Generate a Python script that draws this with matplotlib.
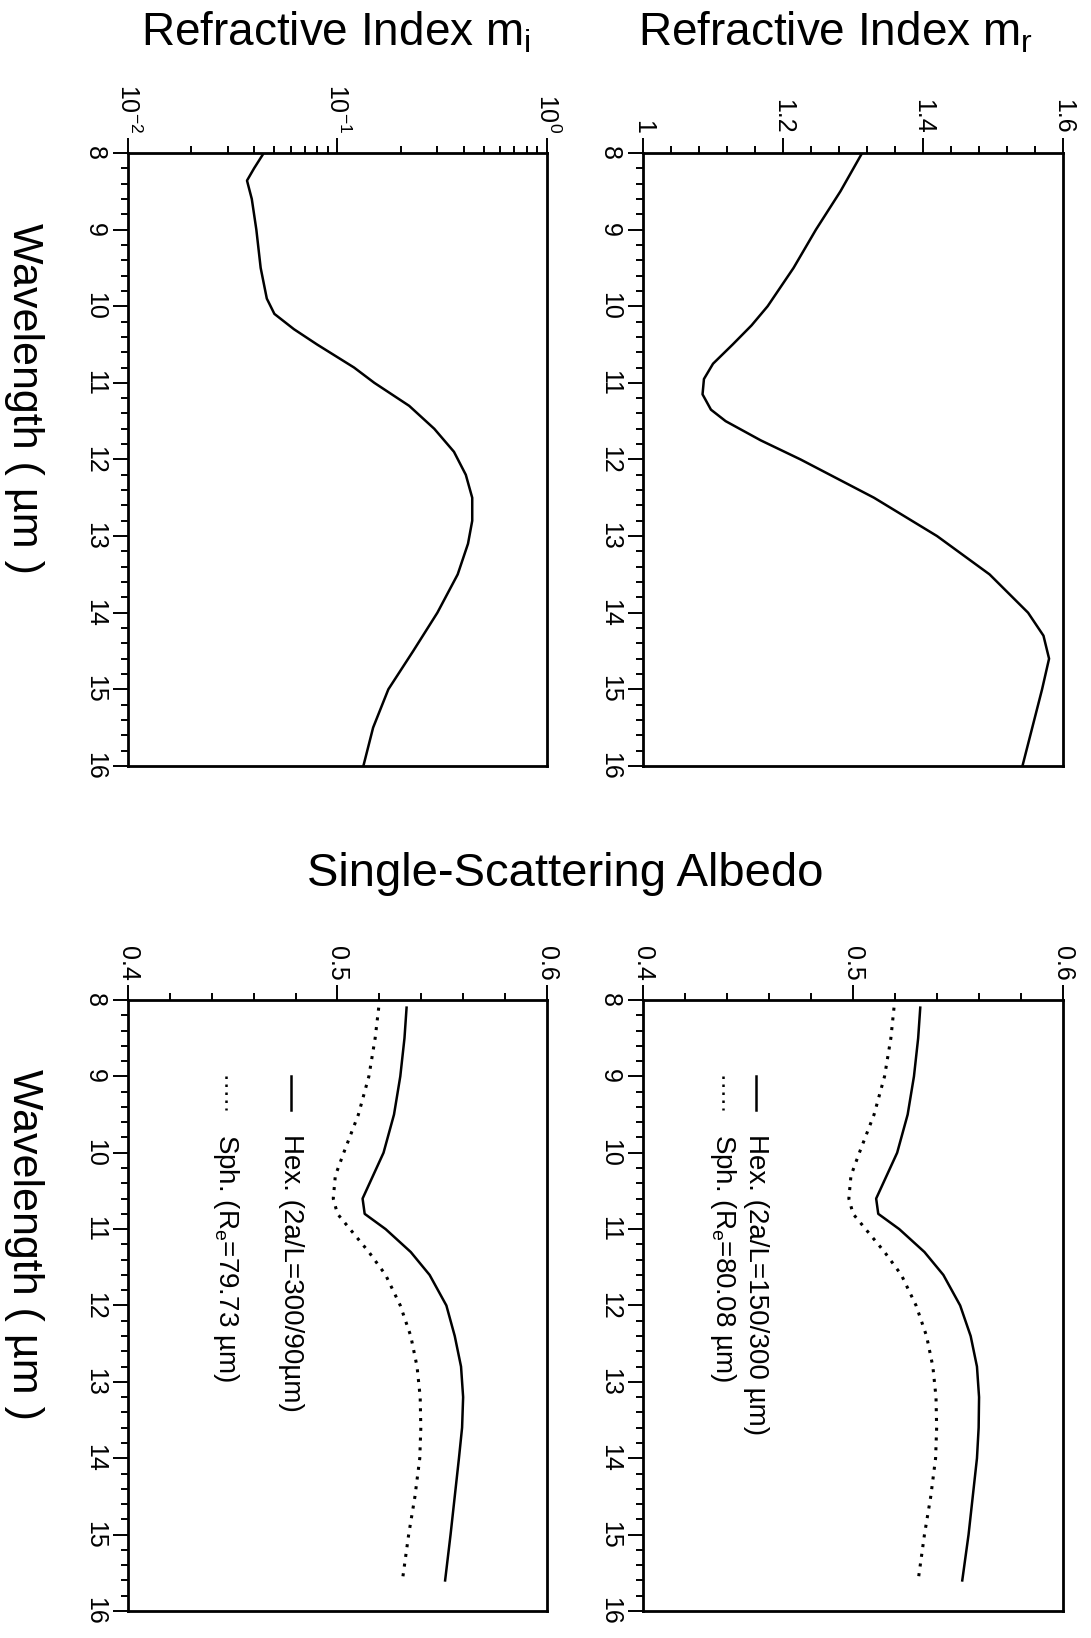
import matplotlib.pyplot as plt
from matplotlib.ticker import MultipleLocator, FixedLocator, LogLocator, NullFormatter

plt.rcParams['font.family'] = ['Liberation Sans', 'DejaVu Sans']
plt.rcParams['mathtext.fontset'] = 'custom'
plt.rcParams['mathtext.rm'] = 'Liberation Sans'
plt.rcParams['mathtext.it'] = 'Liberation Sans:italic'

# refractive index, real part
wl_mr = [8, 8.5, 9, 9.5, 10, 10.25, 10.5, 10.75, 10.95, 11.15, 11.35, 11.5, 11.75, 12, 12.5, 13,
         13.5, 14, 14.3, 14.6, 15, 15.5, 16]
mr = [1.313, 1.282, 1.247, 1.215, 1.178, 1.155, 1.128, 1.100, 1.087, 1.085, 1.097, 1.118, 1.168,
      1.225, 1.33, 1.42, 1.495, 1.55, 1.572, 1.58, 1.57, 1.556, 1.542]

# refractive index, imaginary part
wl_mi = [8, 8.2, 8.36, 8.6, 9, 9.5, 9.9, 10.1, 10.3, 10.5, 10.8, 11, 11.3, 11.6, 11.9, 12.2,
         12.5, 12.8, 13.1, 13.5, 14, 14.5, 15, 15.5, 16]
mi = [0.0445, 0.040, 0.037, 0.039, 0.041, 0.043, 0.046, 0.050, 0.062, 0.080, 0.12, 0.15, 0.22,
      0.29, 0.36, 0.41, 0.44, 0.44, 0.42, 0.375, 0.30, 0.23, 0.175, 0.148, 0.133]

# single-scattering albedo
wl_ssa = [8.1, 8.5, 9, 9.5, 10, 10.3, 10.6, 10.8, 11, 11.3, 11.6, 12, 12.4, 12.8, 13.2, 13.6,
          14, 14.5, 15, 15.6]
hex_150 = [0.532, 0.531, 0.529, 0.526, 0.521, 0.516, 0.511, 0.512, 0.522, 0.534, 0.543, 0.551,
           0.556, 0.559, 0.560, 0.5598, 0.559, 0.557, 0.555, 0.552]
sph_80 = [0.5195, 0.518, 0.515, 0.510, 0.503, 0.499, 0.498, 0.500, 0.506, 0.515, 0.523, 0.530,
          0.535, 0.538, 0.5395, 0.5398, 0.5393, 0.537, 0.534, 0.531]
hex_300 = [0.533, 0.532, 0.530, 0.527, 0.522, 0.517, 0.512, 0.513, 0.523, 0.535, 0.544, 0.552,
           0.556, 0.559, 0.560, 0.5595, 0.558, 0.556, 0.554, 0.5514]
sph_79 = [0.5197, 0.518, 0.515, 0.510, 0.503, 0.499, 0.498, 0.500, 0.506, 0.515, 0.523, 0.530,
          0.535, 0.538, 0.5395, 0.5398, 0.5393, 0.537, 0.534, 0.531]

wl_ticks = list(range(8, 17))

tick_fs = 18
lab_fs = 33
dot = (0, (1, 2.2))

fig = plt.figure(figsize=(10.91, 16.38), dpi=100)


def fix_labels(ax):
    for lbl in ax.get_xticklabels():
        lbl.set_ha('center')
        lbl.set_va('bottom')
    for lbl in ax.get_yticklabels():
        lbl.set_ha('right')
        lbl.set_va('center')


def make_axes(rect):
    ax = fig.add_axes(rect)
    ax.set_ylim(16, 8)
    ax.yaxis.set_major_locator(FixedLocator(wl_ticks))
    ax.yaxis.set_minor_locator(MultipleLocator(0.2))
    ax.set_yticklabels([str(v) for v in wl_ticks])
    ax.xaxis.tick_top()
    ax.tick_params(which='both', direction='out', width=1.4, top=True, bottom=False,
                   left=True, right=False, labelsize=tick_fs)
    ax.tick_params(which='major', length=11)
    ax.tick_params(which='minor', length=5)
    ax.tick_params(axis='x', labelrotation=270, pad=3)
    ax.tick_params(axis='y', labelrotation=270, pad=4)
    for s in ax.spines.values():
        s.set_linewidth(2)
    return ax


# top left: m_i
ax_mi = make_axes([0.1173, 0.5324, 0.384, 0.3742])
ax_mi.plot(mi, wl_mi, color='black', lw=1.8)
ax_mi.set_xscale('log')
ax_mi.set_xlim(0.01, 1)
ax_mi.xaxis.set_major_locator(FixedLocator([0.01, 0.1, 1]))
ax_mi.xaxis.set_minor_locator(LogLocator(base=10, subs=range(2, 10)))
ax_mi.xaxis.set_minor_formatter(NullFormatter())
ax_mi.set_xticklabels(['$10^{-2}$', '$10^{-1}$', '$10^{0}$'])

# top right: m_r
ax_mr = make_axes([0.5894, 0.5324, 0.385, 0.3742])
ax_mr.plot(mr, wl_mr, color='black', lw=1.8)
ax_mr.set_xlim(1, 1.6)
ax_mr.xaxis.set_major_locator(FixedLocator([1, 1.2, 1.4, 1.6]))
ax_mr.xaxis.set_minor_locator(MultipleLocator(0.04))
ax_mr.set_xticklabels(['1', '1.2', '1.4', '1.6'])

# bottom row: albedo
ax_b1 = make_axes([0.1173, 0.0165, 0.384, 0.373])
ax_b2 = make_axes([0.5894, 0.0165, 0.385, 0.373])
panels = [(ax_b1, hex_300, sph_79, 'Hex. (2a/L=300/90µm)', 'Sph. (R$_\\mathregular{e}$=79.73 µm)', 0.39, 0.235),
          (ax_b2, hex_150, sph_80, 'Hex. (2a/L=150/300 µm)', 'Sph. (R$_\\mathregular{e}$=80.08 µm)', 0.27, 0.19)]
for ax, h, s, hl, sl, xh, xs in panels:
    ax.plot(h, wl_ssa, color='black', lw=1.8)
    ax.plot(s, wl_ssa, color='black', lw=2.2, linestyle=dot)
    ax.set_xlim(0.4, 0.6)
    ax.xaxis.set_major_locator(FixedLocator([0.4, 0.5, 0.6]))
    ax.xaxis.set_minor_locator(MultipleLocator(0.02))
    ax.set_xticklabels(['0.4', '0.5', '0.6'])
    # legend keys drawn by hand, rotated with the rest
    for xk, ls, txt in [(xh, '-', hl), (xs, dot, sl)]:
        ax.plot([xk, xk], [0.875, 0.82], transform=ax.transAxes, color='black', lw=1.8, linestyle=ls)
        ax.text(xk, 0.78, txt, transform=ax.transAxes, rotation=270, ha='center', va='top', fontsize=20)

for ax in [ax_mi, ax_mr, ax_b1, ax_b2]:
    fix_labels(ax)

fig.text(0.308, 0.980, 'Refractive Index m$_\\mathregular{i}$', ha='center', va='center', fontsize=lab_fs)
fig.text(0.766, 0.980, 'Refractive Index m$_\\mathregular{r}$', ha='center', va='center', fontsize=lab_fs)
fig.text(0.518, 0.4667, 'Single-Scattering Albedo', ha='center', va='center', fontsize=lab_fs + 1)
fig.text(0.022, 0.757, 'Wavelength ( µm )', rotation=270, ha='center', va='center', fontsize=lab_fs - 2)
fig.text(0.022, 0.2405, 'Wavelength ( µm )', rotation=270, ha='center', va='center', fontsize=lab_fs - 2)

fig.savefig('out.png', dpi=100, facecolor='white')
